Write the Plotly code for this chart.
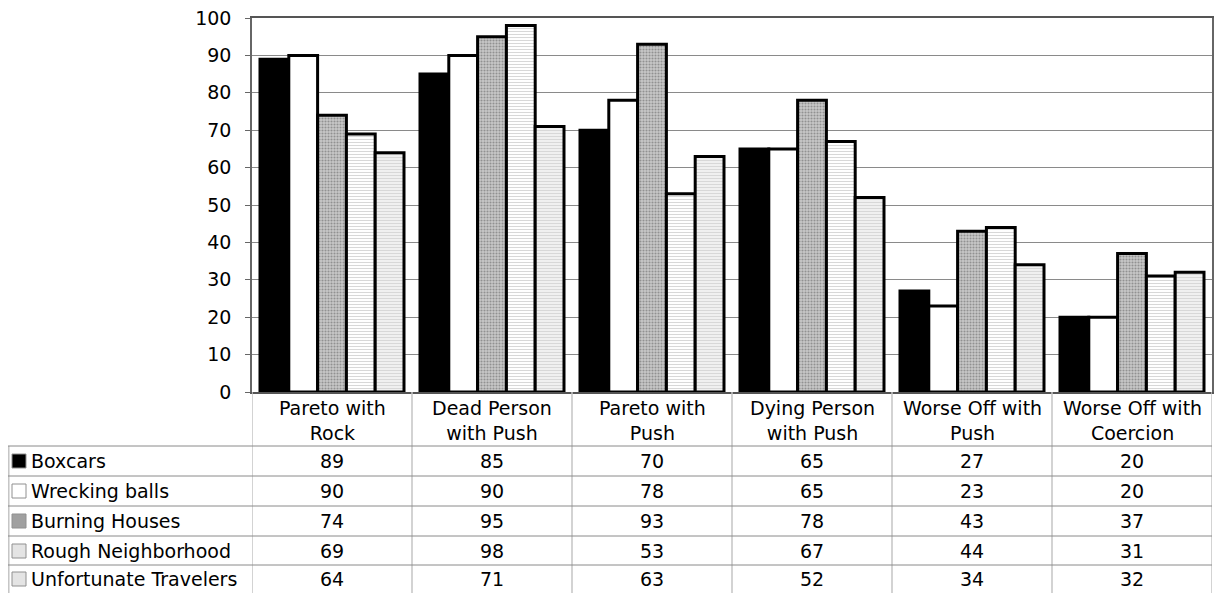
import plotly.graph_objects as go

categories = ["Pareto with<br>Rock", "Dead Person<br>with Push", "Pareto with<br>Push",
              "Dying Person<br>with Push", "Worse Off with<br>Push", "Worse Off with<br>Coercion"]
series_names = ["Boxcars", "Wrecking balls", "Burning Houses", "Rough Neighborhood", "Unfortunate Travelers"]
boxcars = [89, 85, 70, 65, 27, 20]
wrecking_balls = [90, 90, 78, 65, 23, 20]
burning_houses = [74, 95, 93, 78, 43, 37]
rough_neighborhood = [69, 98, 53, 67, 44, 31]
unfortunate_travelers = [64, 71, 63, 52, 34, 32]
series_values = [boxcars, wrecking_balls, burning_houses, rough_neighborhood, unfortunate_travelers]
y_ticks = list(range(0, 101, 10))

FONT = "DejaVu Sans"
OFF = 8  # page body margin
W, H = 1225 - OFF, 593 - OFF
L, R, T, B = 252 - OFF, 13, 18 - OFF, 201
PW, PH = W - L - R, H - T - B

def py(pix):
    # pix: reference-picture pixel
    return (H - B - (pix - OFF)) / PH

def px(pix):
    return (pix - OFF - L) / PW

styles = [
    dict(color="black", pattern=None),
    dict(color="white", pattern=None),
    dict(color="#c0c0c0", pattern=dict(shape=".", fgcolor="#5a5a5a", bgcolor="#c8c8c8", size=3, solidity=0.4)),
    dict(color="white", pattern=dict(shape="-", fgcolor="#b0b0b0", bgcolor="white", size=3, solidity=0.33)),
    dict(color="white", pattern=dict(shape="-", fgcolor="#bdbdbd", bgcolor="#f2f2f2", size=3, solidity=0.4)),
]
key_fill = ["black", "white", "#a0a0a0", "#e4e4e4", "#e4e4e4"]

fig = go.Figure()
xi = list(range(len(categories)))
for name, vals, st in zip(series_names, series_values, styles):
    marker = dict(color=st["color"], line=dict(color="black", width=3))
    if st["pattern"]:
        marker["pattern"] = st["pattern"]
    fig.add_trace(go.Bar(x=xi, y=vals, name=name, marker=marker, showlegend=False))

shapes = []
annotations = []
grid_light = "#c4c4c4"
grid_dark = "#8a8a8a"
TF = 19
for k in range(len(categories) + 1):
    shapes.append(dict(type="line", xref="x", yref="paper", x0=k - 0.5, x1=k - 0.5,
                       y0=0, y1=py(593), line=dict(color=grid_light, width=1.5)))
shapes.append(dict(type="line", xref="paper", yref="paper", x0=px(8.8), x1=px(8.8),
                   y0=py(446), y1=py(593), line=dict(color=grid_light, width=1.5)))
row_tops = [446, 476, 506, 536, 565]
for rt in row_tops:
    shapes.append(dict(type="line", xref="paper", yref="paper", x0=px(8), x1=1,
                       y0=py(rt), y1=py(rt), line=dict(color=grid_dark, width=1)))
for k, c in enumerate(categories):
    annotations.append(dict(x=k, y=py(420), xref="x", yref="paper", text=c, showarrow=False,
                            font=dict(family=FONT, size=TF, color="black"), yanchor="middle"))
row_centers = [461, 491, 521, 551, 579]
for s, (name, vals) in enumerate(zip(series_names, series_values)):
    yc = py(row_centers[s])
    for k, v in enumerate(vals):
        annotations.append(dict(x=k, y=yc, xref="x", yref="paper", text=str(v), showarrow=False,
                                font=dict(family=FONT, size=TF, color="black"), yanchor="middle"))
    annotations.append(dict(x=px(29), y=yc, xref="paper", yref="paper", text=name, showarrow=False,
                            xanchor="left", yanchor="middle",
                            font=dict(family=FONT, size=TF, color="black")))
    shapes.append(dict(type="rect", xref="paper", yref="paper", x0=px(12), x1=px(26),
                       y0=py(row_centers[s] - 7), y1=py(row_centers[s] + 7),
                       fillcolor=key_fill[s], line=dict(color="#909090", width=1)))

fig.update_layout(
    width=W, height=H,
    margin=dict(l=L, r=R, t=T, b=B, pad=0, autoexpand=False),
    plot_bgcolor="white", paper_bgcolor="white",
    barmode="group", bargap=0.1, bargroupgap=0,
    font=dict(family=FONT, size=18, color="black"),
    shapes=shapes, annotations=annotations,
    xaxis=dict(range=[-0.5, len(categories) - 0.5], showticklabels=False, showgrid=False,
               zeroline=False, showline=True, linecolor="#555555", linewidth=1.5, mirror=True,
               ticks="", automargin=False),
    yaxis=dict(range=[0, 100], tickvals=y_ticks, showgrid=True, gridcolor=grid_dark, gridwidth=1,
               zeroline=False, showline=True, linecolor="#666666", linewidth=1.5, mirror=True,
               ticks="outside", ticklen=5, tickcolor="#666666", ticklabelstandoff=10,
               automargin=False, ticklabeloverflow="allow",
               tickfont=dict(family=FONT, size=19, color="black")),
)
fig.write_html("out.html")
